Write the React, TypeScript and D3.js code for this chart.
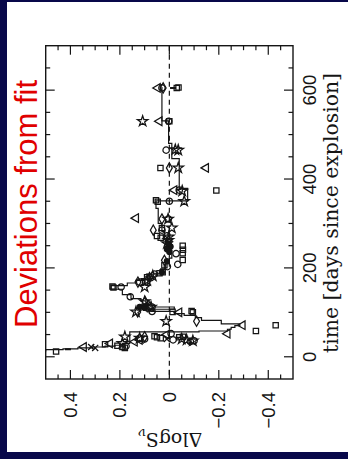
import React from 'react';
import * as d3 from 'd3';

const W = 348;
const H = 459;

// time axis (days) and deviation axis (Δ log S)
const timeTicks = [0, 200, 400, 600];
const timeLabels = ['0', '200', '400', '600'];
const devTicks = [0.4, 0.2, 0, -0.2, -0.4];
const devLabels = ['0.4', '0.2', '0', '\u22120.2', '\u22120.4'];

// data points [time, deviation]
const squares: [number, number][] = [
  [605, -0.03], [606, -0.037], [530, 0.0], [425, 0.036], [374, -0.19], [352, 0.054], [349, 0.047],
  [290, 0.03], [272, 0.05], [268, 0.035], [250, -0.054], [241, -0.055], [233, -0.054], [218, -0.054],
  [206, 0.02], [190, 0.027], [188, 0.04], [179, 0.09], [168, 0.098], [158, 0.23], [156, 0.226],
  [101, -0.013], [103, -0.09], [100, -0.095], [71, -0.43], [58, -0.35], [46, 0.06], [44, 0.05],
  [42, 0.035], [45, -0.055], [44, -0.04], [28, 0.26], [25, 0.21], [22, 0.19], [20, 0.18], [12, 0.458],
];
const circles: [number, number][] = [
  [605, 0.03], [530, 0.003], [465, 0.013], [375, -0.04], [350, 0.0], [310, 0.004], [285, 0.03],
  [272, 0.01], [248, 0.0], [232, -0.027], [208, -0.034], [203, 0.008], [186, 0.06], [178, 0.075],
  [168, 0.12], [157, 0.195], [135, 0.158], [112, 0.07], [102, 0.07], [52, -0.007], [42, 0.12],
  [40, 0.1], [38, -0.015], [36, -0.1], [34, -0.085], [24, 0.175],
];
const triangles: [number, number][] = [
  [605, 0.047], [530, 0.04], [425, -0.148], [375, -0.02], [312, 0.135], [112, 0.1], [100, -0.04],
  [71, -0.296], [52, -0.235], [50, 0.01], [38, 0.12], [34, 0.14], [30, 0.24], [22, 0.346],
];
const stars: [number, number][] = [
  [530, 0.108], [465, -0.036], [466, -0.024], [425, -0.036], [373, -0.052], [350, -0.06], [310, 0.005],
  [290, -0.01], [270, 0.002], [262, 0.004], [255, 0.01], [182, 0.067], [172, 0.09], [157, 0.1],
  [124, 0.1], [112, 0.074], [101, 0.135], [80, 0.013], [45, 0.18], [42, 0.12], [40, -0.05],
  [38, -0.07], [36, -0.095], [30, 0.19],
];
const diamonds: [number, number][] = [
  [605, 0.025], [425, 0.0], [310, 0.03], [285, 0.065], [217, 0.02], [178, 0.08], [168, 0.127],
  [124, 0.098], [112, 0.08], [101, 0.128], [80, -0.11], [45, 0.1],
];
const crosses: [number, number][] = [[22, 0.316], [40, 0.01], [20, 0.3]];
const dots: [number, number][] = [
  [255, 0.005], [248, -0.005], [242, 0.01], [236, 0.0], [215, 0.01], [190, 0.03], [112, 0.12], [110, 0.1],
];
const dashes: [number, number][] = [[17, 0.41], [605, -0.015]];

// running mean step line [time, deviation]
const steps: [number, number][] = [
  [12, 0.5], [16, 0.43], [18, 0.37], [20, 0.31], [22, 0.26], [24, 0.22], [26, 0.19], [30, 0.16],
  [56, -0.12], [58, -0.235], [62, -0.25], [66, -0.265], [70, -0.285], [74, -0.21], [82, -0.13],
  [88, -0.105], [93, -0.06], [97, -0.02], [102, 0.075], [107, -0.02], [112, 0.075], [118, 0.095],
  [126, 0.115], [131, 0.155], [140, 0.19], [152, 0.235], [160, 0.17], [166, 0.135], [172, 0.1],
  [180, 0.065], [188, 0.035], [198, 0.015], [210, 0.0], [222, -0.01], [240, -0.005], [255, 0.008],
  [265, 0.02], [282, 0.03], [300, 0.045], [334, 0.054], [351, -0.074], [379, -0.04], [446, -0.01],
  [480, 0.003], [531, 0.03], [607, 0.03],
];

export default function App() {
  const left = 45.7, right = 293, top = 45.7, bottom = 379;
  const x = d3.scaleLinear().domain([0.5, -0.5]).range([left, right]);
  const y = d3.scaleLinear().domain([-50, 700]).range([bottom, top]);

  const devMinor = d3.range(-0.45, 0.4501, 0.05);
  const timeMinor = d3.range(0, 651, 50);
  const isMajDev = (v: number) => Math.abs(Math.round(v * 5) - v * 5) < 1e-6;
  const isMajT = (t: number) => t % 200 === 0;

  const stepLine = d3.line<[number, number]>()
    .x((d) => x(d[1]))
    .y((d) => y(d[0]))
    .curve(d3.curveStepBefore);

  const sym = (type: d3.SymbolType, size: number) => d3.symbol().type(type).size(size)() || '';
  const pSquare = sym(d3.symbolSquare, 28);
  const pCircle = sym(d3.symbolCircle, 32);
  const pTri = sym(d3.symbolTriangle, 32);
  const pStar = sym(d3.symbolStar, 34);
  const pDiamond = sym(d3.symbolDiamond, 30);
  const pCross = sym(d3.symbolX, 26);
  const pDot = sym(d3.symbolCircle, 20);

  const ink = '#151515';
  const sansFont = "'Liberation Sans', Arial, sans-serif";
  const serifFont = "'DejaVu Serif', serif";

  const marks = (data: [number, number][], path: string, key: string, rot = 0, fill = 'none') =>
    data.map((d, i) => (
      <path
        key={key + i}
        d={path}
        transform={`translate(${x(d[1])},${y(d[0])})${rot ? ` rotate(${rot})` : ''}`}
        fill={fill}
        stroke={ink}
        strokeWidth={1.25}
      />
    ));

  return (
    <svg width={W} height={H} style={{ position: 'absolute', left: 0, top: 0 }}>
      <defs>
        <clipPath id="plotclip">
          <rect x={left} y={top} width={right - left} height={bottom - top} />
        </clipPath>
      </defs>
      <rect x={0} y={0} width={W} height={H} fill="#08084a" />
      <rect x={7} y={2} width={W - 7} height={450} fill="#ffffff" />

      {/* title */}
      <text
        transform={`translate(36.5,204) rotate(-90)`}
        textAnchor="middle"
        fontFamily={sansFont}
        fontSize={31}
        fill="#e00000"
        textLength={248}
        lengthAdjust="spacingAndGlyphs"
      >
        Deviations from fit
      </text>

      {/* zero line */}
      <line x1={x(0)} x2={x(0)} y1={top} y2={bottom} stroke={ink} strokeWidth={1.2} strokeDasharray="5,4" />

      <g clipPath="url(#plotclip)">
        <path d={stepLine(steps) || ''} fill="none" stroke={ink} strokeWidth={1.2} />
        {marks(squares, pSquare, 'sq')}
        {marks(circles, pCircle, 'ci')}
        {marks(triangles, pTri, 'tr', -90)}
        {marks(stars, pStar, 'st')}
        {marks(diamonds, pDiamond, 'di')}
        {marks(crosses, pCross, 'cr')}
        {marks(dots, pDot, 'do', 0, ink)}
        {dashes.map((d, i) => (
          <line key={'da' + i} x1={x(d[1]) - 3} x2={x(d[1]) + 3} y1={y(d[0])} y2={y(d[0])} stroke={ink} strokeWidth={2} />
        ))}
      </g>

      {/* frame */}
      <rect x={left} y={top} width={right - left} height={bottom - top} fill="none" stroke={ink} strokeWidth={1.4} />

      {/* deviation ticks top & bottom */}
      {devMinor.map((v, i) => {
        const len = isMajDev(v) ? 9 : 4.5;
        const xx = x(v);
        return (
          <g key={'dt' + i}>
            <line x1={xx} x2={xx} y1={top} y2={top + len} stroke={ink} strokeWidth={1.2} />
            <line x1={xx} x2={xx} y1={bottom} y2={bottom - len} stroke={ink} strokeWidth={1.2} />
          </g>
        );
      })}
      {/* time ticks left & right */}
      {timeMinor.map((t, i) => {
        const len = isMajT(t) ? 9 : 4.5;
        const yy = y(t);
        return (
          <g key={'tt' + i}>
            <line x1={left} x2={left + len} y1={yy} y2={yy} stroke={ink} strokeWidth={1.2} />
            <line x1={right} x2={right - len} y1={yy} y2={yy} stroke={ink} strokeWidth={1.2} />
          </g>
        );
      })}

      {/* deviation tick labels */}
      {devTicks.map((v, i) => (
        <text
          key={'dl' + i}
          transform={`translate(${x(v) + 6.5},392) rotate(-90)`}
          textAnchor="end"
          fontFamily={sansFont}
          fontSize={18.5}
          fill={ink}
        >
          {devLabels[i]}
        </text>
      ))}
      {/* time tick labels */}
      {timeTicks.map((t, i) => (
        <text
          key={'tl' + i}
          transform={`translate(316,${y(t)}) rotate(-90)`}
          textAnchor="middle"
          fontFamily={sansFont}
          fontSize={18.5}
          fill={ink}
        >
          {timeLabels[i]}
        </text>
      ))}

      {/* axis titles */}
      <text
        transform={`translate(337.5,213) rotate(-90)`}
        textAnchor="middle"
        fontFamily={serifFont}
        fontSize={19.5}
        fill={ink}
        textLength={280}
        lengthAdjust="spacingAndGlyphs"
      >
        time [days since explosion]
      </text>
      <text
        transform={`translate(170,433) rotate(180)`}
        textAnchor="middle"
        fontFamily={serifFont}
        fontSize={19}
        fill={ink}
      >
        ΔlogS
        <tspan fontSize={13} dy={4}>ν</tspan>
      </text>
    </svg>
  );
}
